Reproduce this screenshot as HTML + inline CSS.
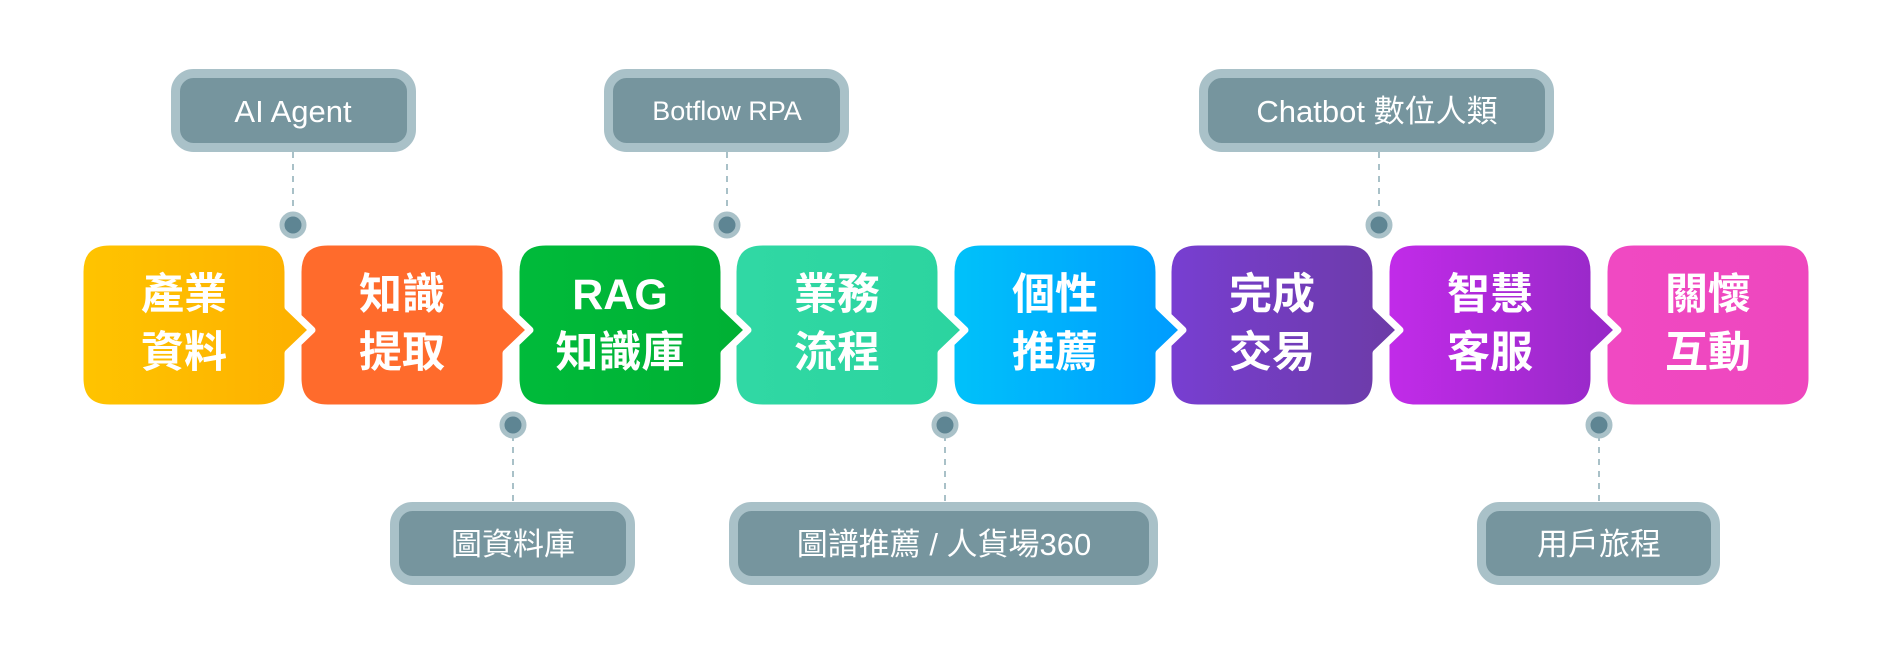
<!DOCTYPE html>
<html><head><meta charset="utf-8"><style>
html,body{margin:0;padding:0;background:#fff;}
svg{display:block}
text{font-family:"Liberation Sans","Noto Sans CJK TC",sans-serif;}
</style></head><body>
<svg width="1893" height="654" viewBox="0 0 1893 654" xmlns="http://www.w3.org/2000/svg">
<defs>
<linearGradient id="g1" x1="0" x2="1"><stop offset="0" stop-color="#FFC400"/><stop offset="1" stop-color="#FDB000"/></linearGradient>
<linearGradient id="g2" x1="0" x2="1"><stop offset="0" stop-color="#FF6B2C"/><stop offset="1" stop-color="#FF6B2C"/></linearGradient>
<linearGradient id="g3" x1="0" x2="1"><stop offset="0" stop-color="#00BB3A"/><stop offset="1" stop-color="#00B034"/></linearGradient>
<linearGradient id="g4" x1="0" x2="1"><stop offset="0" stop-color="#30D8A4"/><stop offset="1" stop-color="#2CD49F"/></linearGradient>
<linearGradient id="g5" x1="0" x2="1"><stop offset="0" stop-color="#00C2FA"/><stop offset="1" stop-color="#009BFF"/></linearGradient>
<linearGradient id="g6" x1="0" x2="1"><stop offset="0" stop-color="#783ED2"/><stop offset="1" stop-color="#6C3BA6"/></linearGradient>
<linearGradient id="g7" x1="0" x2="1"><stop offset="0" stop-color="#C22BE9"/><stop offset="1" stop-color="#9529C6"/></linearGradient>
<linearGradient id="g8" x1="0" x2="1"><stop offset="0" stop-color="#F049C2"/><stop offset="1" stop-color="#EE47BE"/></linearGradient>
<path id="box" d="M30,0 H178 Q208,0 208,30 V65 L232,88 L208,111 V136 Q208,166 178,166 H30 Q0,166 0,136 V30 Q0,0 30,0 Z"/>
<path id="boxlast" d="M30,0 H178 Q208,0 208,30 V136 Q208,166 178,166 H30 Q0,166 0,136 V30 Q0,0 30,0 Z"/>
</defs>

<!-- connectors -->
<g stroke="#A9C1C8" stroke-width="2" stroke-dasharray="6,6">
<line x1="293" y1="152" x2="293" y2="215"/>
<line x1="727" y1="152" x2="727" y2="215"/>
<line x1="1379" y1="152" x2="1379" y2="215"/>
<line x1="513" y1="435" x2="513" y2="502"/>
<line x1="945" y1="435" x2="945" y2="502"/>
<line x1="1599" y1="435" x2="1599" y2="502"/>
</g>
<g fill="#5E8593" stroke="#A9C1C8" stroke-width="5">
<circle cx="293" cy="225" r="11"/>
<circle cx="727" cy="225" r="11"/>
<circle cx="1379" cy="225" r="11"/>
<circle cx="513" cy="425" r="11"/>
<circle cx="945" cy="425" r="11"/>
<circle cx="1599" cy="425" r="11"/>
</g>

<!-- boxes drawn right to left -->
<g stroke="#fff" stroke-width="7" stroke-linejoin="round">
<use href="#boxlast" x="1604" y="242" fill="url(#g8)"/>
<use href="#box" x="1386" y="242" fill="url(#g7)"/>
<use href="#box" x="1168" y="242" fill="url(#g6)"/>
<use href="#box" x="951" y="242" fill="url(#g5)"/>
<use href="#box" x="733" y="242" fill="url(#g4)"/>
<use href="#box" x="516" y="242" fill="url(#g3)"/>
<use href="#box" x="298" y="242" fill="url(#g2)"/>
<use href="#box" x="80" y="242" fill="url(#g1)"/>
</g>

<g fill="#fff" font-size="43" font-weight="bold" text-anchor="middle">
<text x="184" y="309">產業</text><text x="184" y="367">資料</text>
<text x="402" y="309">知識</text><text x="402" y="367">提取</text>
<text x="620" y="309">RAG</text><text x="620" y="367">知識庫</text>
<text x="837" y="309">業務</text><text x="837" y="367">流程</text>
<text x="1055" y="309">個性</text><text x="1055" y="367">推薦</text>
<text x="1272" y="309">完成</text><text x="1272" y="367">交易</text>
<text x="1490" y="309">智慧</text><text x="1490" y="367">客服</text>
<text x="1708" y="309">關懷</text><text x="1708" y="367">互動</text>
</g>

<!-- callouts -->
<g fill="#76959E" stroke="#A9C1C8" stroke-width="9">
<rect x="175.5" y="73.5" width="236" height="74" rx="18"/>
<rect x="608.5" y="73.5" width="236" height="74" rx="18"/>
<rect x="1203.5" y="73.5" width="346" height="74" rx="18"/>
<rect x="394.5" y="506.5" width="236" height="74" rx="18"/>
<rect x="733.5" y="506.5" width="420" height="74" rx="18"/>
<rect x="1481.5" y="506.5" width="234" height="74" rx="18"/>
</g>
<g fill="#fff" font-size="31" text-anchor="middle">
<text x="293" y="122">AI Agent</text>
<text x="727" y="120" font-size="27">Botflow RPA</text>
<text x="1377" y="122">Chatbot 數位人類</text>
<text x="513" y="555">圖資料庫</text>
<text x="944" y="555">圖譜推薦 / 人貨場360</text>
<text x="1599" y="555">用戶旅程</text>
</g>
</svg>
</body></html>
